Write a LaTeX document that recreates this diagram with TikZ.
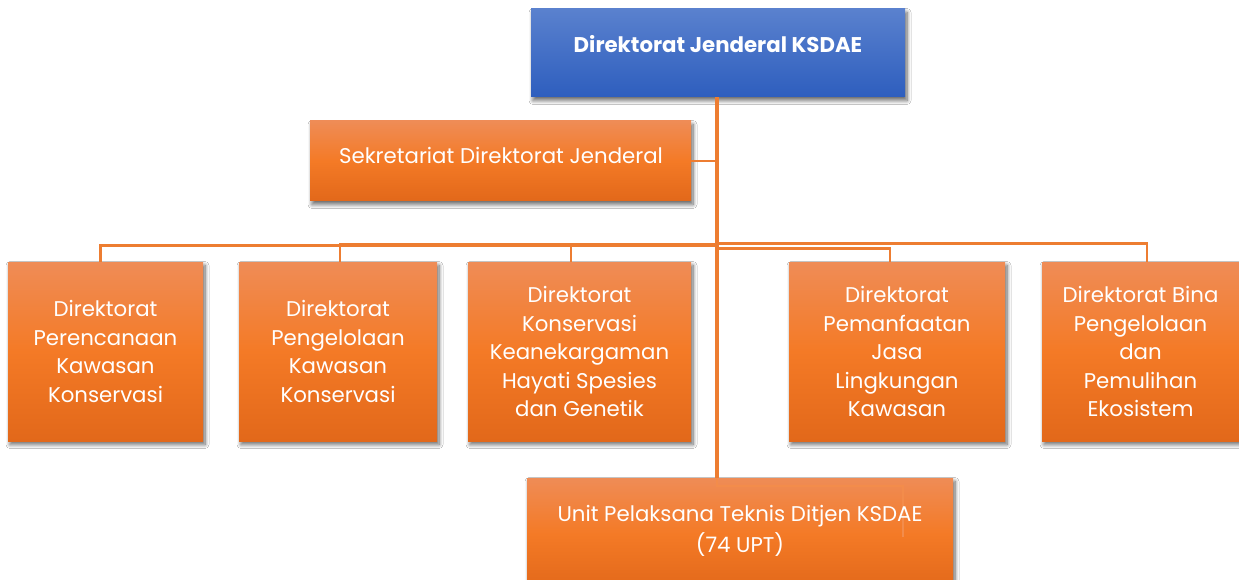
\documentclass[tikz,border=0pt]{standalone}
\usepackage{fontspec}
\setmainfont{Poppins}
\usetikzlibrary{shadows.blur,calc}
\definecolor{orgT}{RGB}{239,140,86}
\definecolor{orgM}{RGB}{244,122,38}
\definecolor{orgB}{RGB}{226,104,26}
\definecolor{bluT}{RGB}{90,129,206}
\definecolor{bluB}{RGB}{46,94,190}
\definecolor{lineO}{RGB}{237,125,49}
\definecolor{innerO}{RGB}{243,140,75}
\tikzset{
  x=1pt,y=-1pt,
  shad/.style={blur shadow={shadow xshift=2pt,shadow yshift=-3.5pt,shadow blur radius=4pt,shadow blur steps=8,shadow opacity=60}},
  obox/.style={shad,rectangle,inner sep=0pt,top color=orgT,bottom color=orgB,middle color=orgM,text=white,align=center,font=\fontsize{21.3}{28.5}\selectfont},
  bbox/.style={shad,rectangle,inner sep=0pt,top color=bluT,bottom color=bluB},
  txt/.style={text=white,align=center,inner sep=0pt,font=\fontsize{21.3}{31}\selectfont},
  conn/.style={draw=lineO,line width=2.6pt},
  trunk/.style={draw=lineO,line width=3.5pt},
}
\begin{document}
\begin{tikzpicture}
\useasboundingbox (0,0) rectangle (1239,580);
\fill[white] (0,0) rectangle (1239,580);
% boxes
\node[bbox,minimum width=374pt,minimum height=88pt] (top) at (718,53) {};
\node[txt,font=\fontsize{21.3}{24}\selectfont\bfseries] (toptxt) at (718,44) {Direktorat Jenderal KSDAE};
\node[obox,minimum width=381pt,minimum height=80pt] (sek) at (500.5,161) {};
\node[txt] (sektxt) at (501,155) {Sekretariat Direktorat Jenderal};
\node[obox,minimum width=195pt,minimum height=179pt] (c1) at (105.5,351.5) {Direktorat\\Perencanaan\\Kawasan\\Konservasi};
\node[obox,minimum width=198pt,minimum height=179pt] (c2) at (338,351.5) {Direktorat\\Pengelolaan\\Kawasan\\Konservasi};
\node[obox,minimum width=223pt,minimum height=179pt] (c3) at (579.5,351.5) {Direktorat\\Konservasi\\Keanekargaman\\Hayati Spesies\\dan Genetik};
\node[obox,minimum width=216pt,minimum height=179pt] (c4) at (897,351.5) {Direktorat\\Pemanfaatan\\Jasa\\Lingkungan\\Kawasan};
\node[obox,minimum width=197pt,minimum height=179pt] (c5) at (1140.5,351.5) {Direktorat Bina\\Pengelolaan\\dan\\Pemulihan\\Ekosistem};
\node[obox,minimum width=426pt,minimum height=112pt] (upt) at (740,534) {};
% connectors
\draw[conn] ([xshift=-2pt]top.south) |- (sek.east);
\draw[conn] ([xshift=-2pt]top.south) -- ++(0,148) -| ([xshift=-5pt]c1.north);
\draw[conn] ([xshift=-2pt]top.south) -- ++(0,147) -| ([xshift=2pt]c2.north);
\draw[conn] ([xshift=-2pt]top.south) -- ++(0,147) -| ([xshift=-8.5pt]c3.north);
\draw[conn] ([xshift=0pt]top.south) -- ++(0,151) -| ([xshift=-7pt]c4.north);
\draw[conn] ([xshift=-1pt]top.south) -- ++(0,146) -| ([xshift=6.5pt]c5.north);
\draw[trunk] ([xshift=-1pt]top.south) -- (717,478) coordinate (uptin);
\draw[draw=innerO,line width=2.2pt] (uptin) -- (717,486) -- (903,486) -- (903,537) coordinate (uptend);
\node[txt] (upttxt) at (740,530.5) {Unit Pelaksana Teknis Ditjen KSDAE\\(74 UPT)};
\end{tikzpicture}
\end{document}
